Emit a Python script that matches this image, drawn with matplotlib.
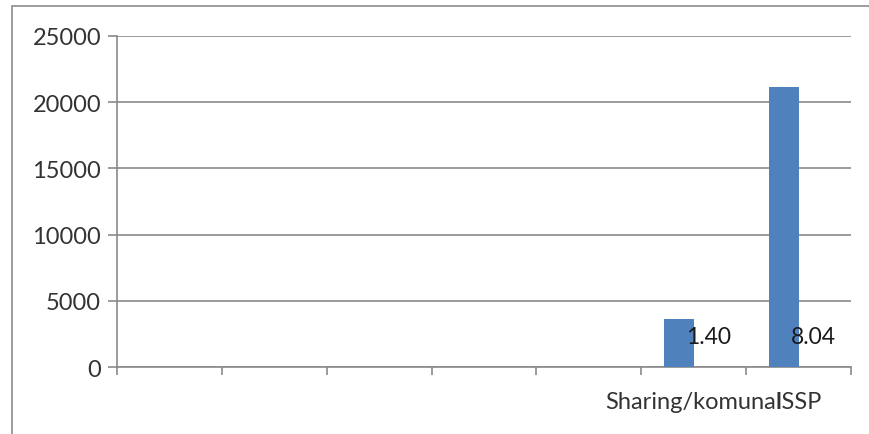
import numpy as np
import matplotlib
matplotlib.use("Agg")
import matplotlib.pyplot as plt
from matplotlib.patches import Rectangle

# Categories along the x axis (only the last two are named)
categories = ["", "", "", "", "", "Sharing/komunal", "ISSP"]
# Main series (blue bars)
series_main = [0, 0, 0, 0, 0, 3640, 21100]
# Second series: tiny values, only visible through their labels
series_small = [np.nan, np.nan, np.nan, np.nan, np.nan, 1.40, 8.04]
small_labels = ["", "", "", "", "", "1.40", "8.04"]
y_ticks = [0, 5000, 10000, 15000, 20000, 25000]

W, H = 869, 435
fig = plt.figure(figsize=(W / 100, H / 100), dpi=100)
plt.rcParams["font.family"] = ["Lato", "DejaVu Sans"]

# Outer chart frame
fig.patches.append(Rectangle((12 / W, -0.1), 1.2, (H - 7) / H + 0.1,
                             transform=fig.transFigure, fill=False,
                             edgecolor="#8c8c8c", linewidth=1.2))

ax = fig.add_axes([117 / W, (H - 368.3) / H, (851 - 117) / W, (368.3 - 36.7) / H])

grid_c = "#8a8a8a"
text_c = "#333333"
bar_w = 0.286
x = np.arange(len(categories))

ax.bar(x - bar_w / 2, series_main, width=bar_w, color="#4f81bd", zorder=3)
ax.bar(x + bar_w / 2, series_small, width=bar_w, color="#c0504d", zorder=3)

for xi, val, lab in zip(x, series_small, small_labels):
    if lab:
        ax.annotate(lab, (xi + bar_w / 2, val), xytext=(0, 31),
                    textcoords="offset pixels", ha="center", va="center",
                    fontsize=16.5, color="#1a1a1a", zorder=4)

ax.set_xlim(-0.5, len(categories) - 0.5)
ax.set_ylim(0, 25000)
ax.set_yticks(y_ticks)
ax.set_yticklabels([str(v) for v in y_ticks])
ax.yaxis.grid(True, color=grid_c, linewidth=1.2, zorder=0)
ax.set_axisbelow(True)

ax.set_xticks(x)
ax.set_xticklabels(categories)
ax.set_xticks(np.arange(-0.5, len(categories)), minor=True)
ax.tick_params(axis="x", which="major", length=0, pad=17, labelsize=17,
               labelcolor=text_c)
ax.tick_params(axis="x", which="minor", length=6, width=1.2, color=grid_c)
ax.tick_params(axis="y", length=6.5, width=1.2, color=grid_c, pad=5,
               labelsize=17, labelcolor=text_c)

for s in ["top", "right"]:
    ax.spines[s].set_visible(False)
for s in ["left", "bottom"]:
    ax.spines[s].set_color(grid_c)
    ax.spines[s].set_linewidth(1.2)

fig.savefig("out.png", dpi=100)
